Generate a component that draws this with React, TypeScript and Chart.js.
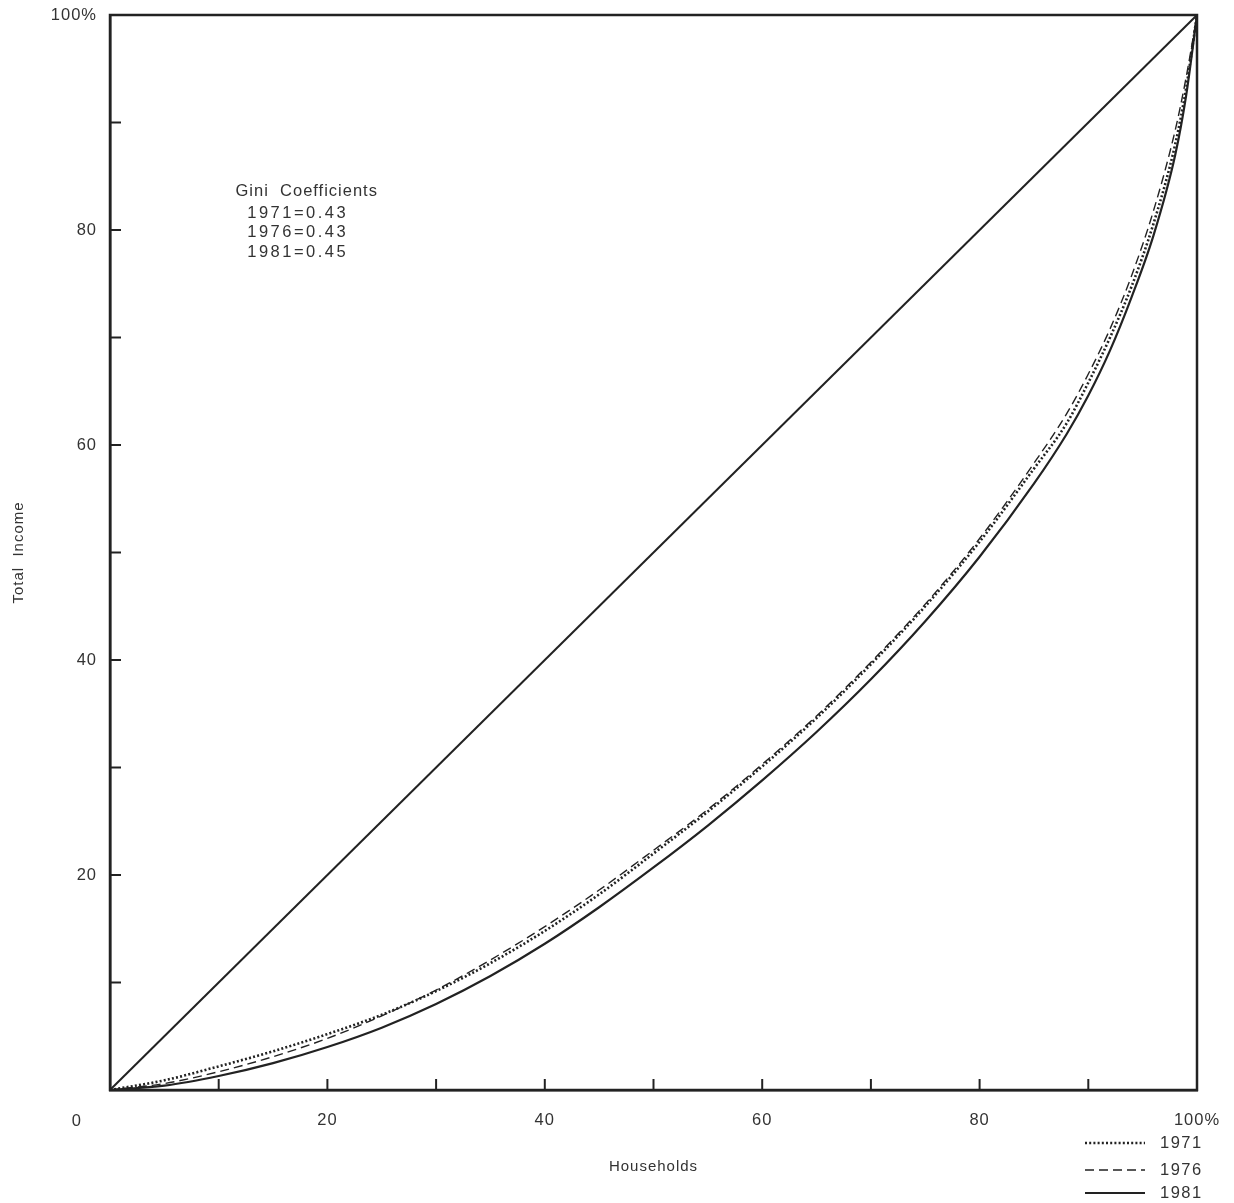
import React, { useEffect, useRef } from "react";
import { Chart, registerables } from "chart.js";

Chart.register(...registerables);

// Cumulative share of households (%)
const households = [0, 5, 10, 15, 20, 25, 30, 35, 40, 45, 50, 55, 60, 65, 70, 75, 80, 85, 88, 90, 92, 94, 96, 98, 99, 100];
// Cumulative share of total income (%)
const income1971 = [0, 0.9, 2.2, 3.6, 5.2, 7.0, 9.2, 11.8, 14.8, 18.2, 22.0, 25.9, 30.1, 34.6, 39.6, 45.0, 51.0, 57.8, 62.0, 65.8, 70.0, 74.8, 80.6, 88.0, 93.2, 100];
const income1976 = [0, 0.6, 1.7, 3.1, 4.8, 6.9, 9.3, 12.1, 15.2, 18.6, 22.3, 26.1, 30.3, 34.8, 39.8, 45.2, 51.3, 58.3, 62.9, 66.6, 70.8, 75.8, 81.8, 89.3, 94.2, 100];
const income1981 = [0, 0.4, 1.3, 2.5, 4.0, 5.8, 8.0, 10.6, 13.6, 17.0, 20.7, 24.6, 28.8, 33.3, 38.2, 43.6, 49.6, 56.4, 61.0, 64.6, 68.8, 73.8, 79.5, 87.0, 92.5, 100];
const equalityX = [0, 100];
const equalityY = [0, 100];

const seriesNames = ["1971", "1976", "1981"];
const giniTitle = "Gini  Coefficients";
const giniLines = ["1971=0.43", "1976=0.43", "1981=0.45"];
const labeledTicks = [20, 40, 60, 80, 100];

const INK = "#222";
const TEXT = "#333";
const FONT = "'Liberation Sans', Arial, sans-serif";
const FS = 16.5;

const dashes: number[][] = [[2, 2.2], [9, 5], []];
const widths = [2.6, 1.4, 2.2];

const pts = (xs: number[], ys: number[]) => xs.map((x, i) => ({ x, y: ys[i] }));

const spacingPlugin = {
  id: "spacing",
  beforeDraw(chart: any) {
    (chart.ctx as any).letterSpacing = "1px";
  },
};

const decorPlugin = {
  id: "decor",
  afterDraw(chart: any) {
    const { ctx, chartArea, scales } = chart;
    const xs = scales.x;
    const ys = scales.y;
    ctx.save();
    // frame
    ctx.strokeStyle = INK;
    ctx.lineWidth = 2.5;
    ctx.strokeRect(chartArea.left, chartArea.top, chartArea.right - chartArea.left, chartArea.bottom - chartArea.top);
    // inner tick marks
    ctx.lineWidth = 2;
    for (let v = 10; v < 100; v += 10) {
      const px = xs.getPixelForValue(v);
      ctx.beginPath();
      ctx.moveTo(px, chartArea.bottom);
      ctx.lineTo(px, chartArea.bottom - 11);
      ctx.stroke();
      const py = ys.getPixelForValue(v);
      ctx.beginPath();
      ctx.moveTo(chartArea.left, py);
      ctx.lineTo(chartArea.left + 11, py);
      ctx.stroke();
    }
    // origin label
    ctx.fillStyle = TEXT;
    ctx.font = `${FS}px ${FONT}`;
    (ctx as any).letterSpacing = "1.5px";
    ctx.textAlign = "center";
    ctx.textBaseline = "middle";
    ctx.fillText("0", chartArea.left - 33, chartArea.bottom + 31);
    // Gini annotation
    const gx = xs.getPixelForValue(18.1);
    const gy = ys.getPixelForValue(83.6);
    (ctx as any).letterSpacing = "1px";
    ctx.fillText(giniTitle, gx, gy);
    (ctx as any).letterSpacing = "2.5px";
    giniLines.forEach((t, i) => {
      ctx.fillText(t, gx - 9, gy + 22 + i * 19.5);
    });
    // legend
    const lx0 = chartArea.right - 112;
    const lx1 = chartArea.right - 52;
    const ly0 = chartArea.bottom + 53;
    const lys = [ly0, ly0 + 27, ly0 + 50];
    (ctx as any).letterSpacing = "1.5px";
    seriesNames.forEach((name, i) => {
      ctx.strokeStyle = INK;
      ctx.lineWidth = widths[i];
      ctx.setLineDash(dashes[i]);
      ctx.beginPath();
      ctx.moveTo(lx0, lys[i]);
      ctx.lineTo(lx1, lys[i]);
      ctx.stroke();
      ctx.setLineDash([]);
      ctx.textAlign = "left";
      ctx.fillText(name, chartArea.right - 37, lys[i]);
    });
    ctx.restore();
  },
};

export default function App() {
  const ref = useRef<HTMLCanvasElement | null>(null);
  useEffect(() => {
    document.body.style.margin = "0";
    if (!ref.current) return;
    const mk = (label: string, ys: number[], i: number) => ({
      label,
      data: pts(households, ys),
      borderColor: INK,
      borderWidth: widths[i],
      borderDash: dashes[i],
      pointRadius: 0,
      fill: false,
      cubicInterpolationMode: "monotone" as const,
    });
    const chart = new Chart(ref.current, {
      type: "line",
      data: {
        datasets: [
          mk(seriesNames[0], income1971, 0),
          mk(seriesNames[1], income1976, 1),
          mk(seriesNames[2], income1981, 2),
          {
            label: "Equality",
            data: pts(equalityX, equalityY),
            borderColor: INK,
            borderWidth: 2,
            pointRadius: 0,
            fill: false,
          },
        ],
      },
      options: {
        animation: false,
        responsive: false,
        layout: { padding: { top: 15, right: 37, left: 0, bottom: 0 } },
        plugins: { legend: { display: false }, tooltip: { enabled: false } },
        scales: {
          x: {
            type: "linear",
            min: 0,
            max: 100,
            afterFit(s: any) {
              s.height = 113;
              s.paddingLeft = 0;
              s.paddingRight = 0;
            },
            ticks: {
              stepSize: 10,
              autoSkip: false,
              maxRotation: 0,
              padding: 21,
              color: TEXT,
              font: { family: FONT, size: FS },
              callback: (v: any) => (labeledTicks.includes(v) ? (v === 100 ? "100%" : String(v)) : ""),
            },
            grid: { display: true, drawOnChartArea: false, drawTicks: false },
            border: { display: true, color: INK, width: 2.5 },
            title: {
              display: true,
              text: "Households",
              color: TEXT,
              font: { family: FONT, size: 15 },
              padding: { top: 0, bottom: 27 },
            },
          },
          y: {
            type: "linear",
            min: 0,
            max: 100,
            afterFit(s: any) {
              s.width = 110;
              s.paddingTop = 0;
              s.paddingBottom = 0;
            },
            ticks: {
              stepSize: 10,
              autoSkip: false,
              padding: 13,
              color: TEXT,
              font: { family: FONT, size: FS },
              callback: (v: any) => (labeledTicks.includes(v) ? (v === 100 ? "100%" : String(v)) : ""),
            },
            grid: { display: true, drawOnChartArea: false, drawTicks: false },
            border: { display: true, color: INK, width: 2.5 },
            title: {
              display: true,
              text: "Total  Income",
              color: TEXT,
              font: { family: FONT, size: 15 },
              padding: { top: 10, bottom: 0 },
            },
          },
        },
      },
      plugins: [spacingPlugin, decorPlugin],
    });
    return () => chart.destroy();
  }, []);
  return (
    <div style={{ width: 1234, height: 1203, background: "#fff" }}>
      <canvas ref={ref} width={1234} height={1203} style={{ display: "block" }} />
    </div>
  );
}
